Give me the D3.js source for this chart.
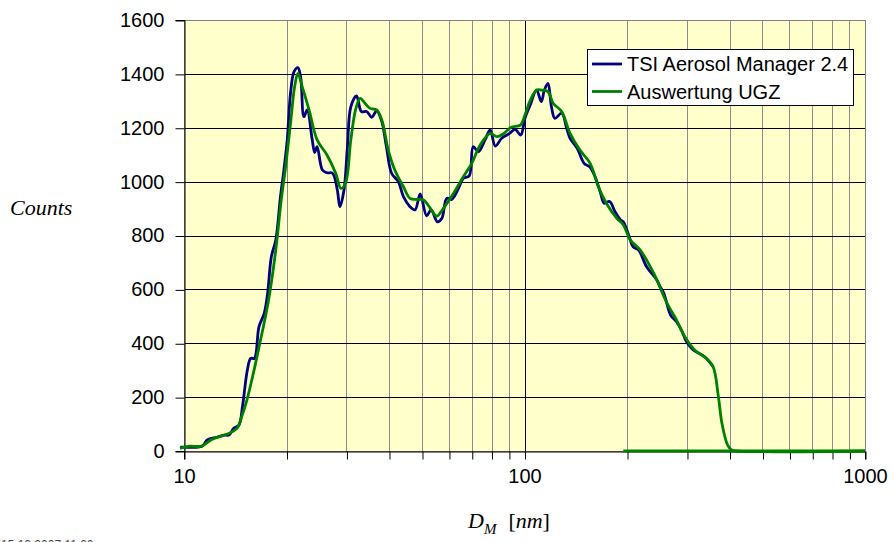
<!DOCTYPE html>
<html>
<head>
<meta charset="utf-8">
<script src="https://cdn.jsdelivr.net/npm/d3@7"></script>
<style>
  body { margin: 0; background: #fff; }
  svg { display: block; }
  .tick text { font-family: "Liberation Sans", Arial, sans-serif; font-size: 20px; fill: #000; }
</style>
</head>
<body>
<div id="chart"></div>
<script>
// size distribution, D_M in nm, counts
const tsiData = [
  [9.75, 14], [10, 14], [11.3, 18], [11.7, 41], [12.5, 51], [13.1, 59], [13.55, 59], [14.0, 84],
  [14.5, 96], [14.85, 165], [15.35, 301], [15.7, 344], [16.1, 344], [16.6, 461], [17.2, 511],
  [17.6, 585], [18.05, 721], [18.6, 783], [19.2, 944], [19.65, 1043], [20.1, 1155], [20.55, 1328],
  [21.05, 1408], [21.6, 1423], [22.0, 1390], [22.5, 1241], [23.0, 1266], [23.8, 1155], [24.2, 1108],
  [24.6, 1130], [25.5, 1043], [26.3, 1033], [27.3, 1031], [28.2, 969], [28.7, 907], [29.5, 969],
  [30.2, 1130], [30.9, 1278], [32.1, 1318], [33.2, 1260], [34.4, 1260], [35.6, 1239], [36.8, 1263],
  [38.1, 1223], [39.3, 1130], [40.7, 1031], [42.6, 1000], [44.1, 944], [46.1, 907], [47.7, 895],
  [49.4, 954], [51.6, 873], [53.2, 895], [55.5, 851], [57.2, 864], [59.1, 938], [61.1, 934],
  [64.0, 975], [66.1, 1012], [68.8, 1021], [70.7, 1130], [73.2, 1111], [76.6, 1155], [79.3, 1192],
  [82.1, 1132], [85.7, 1161], [90.4, 1179], [93.8, 1194], [97.5, 1173], [100.3, 1235], [103.9, 1284],
  [108.5, 1340], [112.0, 1297], [114.4, 1340], [117.2, 1365], [120.0, 1278], [122.8, 1235],
  [128.6, 1254], [133.0, 1198], [136.1, 1161], [142.8, 1124], [149.6, 1068], [155.4, 1055],
  [161.2, 1018], [167.3, 957], [171.3, 920], [177.8, 926], [184.5, 888], [191.4, 858], [195.1, 851],
  [202.3, 802], [208.5, 758], [216.3, 746], [228.4, 684], [244.7, 635], [250.2, 610], [256.6, 585],
  [268.5, 505], [279.6, 480], [290, 445], [298.9, 406], [313, 375], [337.7, 350], [358, 313]
];

const ugzData = [
  [9.73, 10], [10.4, 18], [11.27, 18], [12.06, 43], [13.35, 62], [14.3, 84], [14.77, 127], [15.3, 189],
  [15.98, 288], [16.7, 400], [17.5, 523], [18.1, 635], [18.7, 771], [19.3, 932], [19.88, 1055],
  [20.55, 1216], [21.13, 1352], [21.6, 1402], [22.25, 1352], [23.3, 1266], [24.6, 1155], [26.3, 1099],
  [27.9, 1031], [28.9, 975], [29.8, 994], [30.9, 1155], [31.9, 1266], [32.9, 1309], [34.0, 1291],
  [35.2, 1272], [36.8, 1266], [38.1, 1229], [39.8, 1117], [41.6, 1043], [44.1, 981], [46.1, 938],
  [48.2, 934], [50.5, 932], [52.9, 901], [55.2, 872], [57.8, 901], [61.9, 957], [66.1, 1018],
  [70.0, 1068], [74.1, 1136], [79.3, 1179], [82.9, 1167], [86.6, 1177], [91.4, 1202], [97.3, 1210],
  [100.3, 1247], [103.8, 1300], [108.5, 1340], [112.0, 1340], [117.2, 1334], [121.4, 1291],
  [128.6, 1260], [136.1, 1179], [145.5, 1117], [155.9, 1068], [164.8, 981], [173.9, 920], [186.7, 864],
  [195.2, 839], [204.6, 783], [218.8, 746], [239.5, 660], [262.3, 548], [279.6, 486], [295.7, 424],
  [316, 375], [342, 344], [358, 313], [371, 202], [380, 103], [395, 22], [406, 4], [420, 0], [1000, 0]
];
// second green piece lying on the axis
const ugzBase = [[195, 0], [1000, 0]];

const yTicks = [0, 200, 400, 600, 800, 1000, 1200, 1400, 1600];
const xMajor = [10, 100, 1000];
const xMinor = [20, 30, 40, 50, 60, 70, 80, 90, 200, 300, 400, 500, 600, 700, 800, 900];
const seriesNames = ["TSI Aerosol Manager 2.4", "Auswertung UGZ"];
const seriesColors = ["#000080", "#008000"];

let width = 894, height = 542;
let margin = {top: 20, right: 29, bottom: 91, left: 184};

const svg = d3.select("#chart").append("svg")
  .attr("width", width)
  .attr("height", height);

const x = d3.scaleLog()
  .domain([10, 1000])
  .range([margin.left, width - margin.right]);

const y = d3.scaleLinear()
  .domain([0, 1600])
  .range([height - margin.bottom, margin.top]);

// plot background
svg.append("rect")
  .attr("x", x(10)).attr("y", y(1600))
  .attr("width", x(1000) - x(10)).attr("height", y(0) - y(1600))
  .attr("fill", "#ffffcc");

const px = v => Math.round(v) + 0.5;

// vertical grid
svg.append("g").selectAll("line")
  .data(xMinor.concat([100]))
  .join("line")
  .attr("x1", d => px(x(d))).attr("x2", d => px(x(d)))
  .attr("y1", y(1600)).attr("y2", y(0))
  .attr("stroke", d => d == 100 ? "#000" : "#8c8c8c")
  .attr("stroke-width", 1);

// horizontal grid
svg.append("g").selectAll("line")
  .data(yTicks.slice(1))
  .join("line")
  .attr("x1", x(10)).attr("x2", x(1000))
  .attr("y1", d => px(y(d))).attr("y2", d => px(y(d)))
  .attr("stroke", "#000")
  .attr("stroke-width", 1);

// frame
svg.append("rect")
  .attr("x", px(x(10))).attr("y", px(y(1600)))
  .attr("width", Math.round(x(1000)) - Math.round(x(10))).attr("height", Math.round(y(0)) - Math.round(y(1600)))
  .attr("fill", "none")
  .attr("stroke", "#808080");

// axes
const yAxis = svg.append("g")
  .attr("transform", `translate(${px(x(10))},0)`)
  .call(d3.axisLeft(y).tickValues(yTicks).tickSize(9).tickPadding(11).tickFormat(d3.format("d")));

const xAxis = svg.append("g")
  .attr("transform", `translate(0,${px(y(0))})`)
  .call(d3.axisBottom(x).tickValues(xMajor.concat(xMinor)).tickSize(8).tickPadding(9)
    .tickFormat(d => xMajor.includes(d) ? d : ""));

[yAxis, xAxis].forEach(g => {
  g.select(".domain").attr("stroke", "#000");
  g.selectAll(".tick line").attr("stroke", "#000");
});
xAxis.selectAll(".tick line").attr("transform", "translate(0.5,0)");
yAxis.selectAll(".tick line").attr("transform", "translate(0,0.5)");

// lines
const line = d3.line()
  .x(d => x(d[0]))
  .y(d => y(d[1]))
  .curve(d3.curveCatmullRom.alpha(0.5));

svg.append("path")
  .datum(ugzBase)
  .attr("d", line)
  .attr("fill", "none")
  .attr("stroke", seriesColors[1])
  .attr("stroke-width", 2.8);

svg.append("path")
  .datum(tsiData)
  .attr("d", line)
  .attr("fill", "none")
  .attr("stroke", seriesColors[0])
  .attr("stroke-width", 2.8)
  .attr("stroke-linejoin", "round");

svg.append("path")
  .datum(ugzData)
  .attr("d", line)
  .attr("fill", "none")
  .attr("stroke", seriesColors[1])
  .attr("stroke-width", 2.8)
  .attr("stroke-linejoin", "round");

// legend
const legend = svg.append("g").attr("transform", "translate(587,49)");
legend.append("rect")
  .attr("x", 0.5).attr("y", 0.5)
  .attr("width", 266).attr("height", 56)
  .attr("fill", "#fff")
  .attr("stroke", "#000");

const item = legend.selectAll("g.item")
  .data(seriesNames)
  .join("g")
  .attr("class", "item")
  .attr("transform", (d, i) => `translate(0,${15 + i * 27.5})`);

item.append("line")
  .attr("x1", 5).attr("x2", 35)
  .attr("stroke", (d, i) => seriesColors[i])
  .attr("stroke-width", 2.8);

item.append("text")
  .attr("x", 40).attr("y", 7)
  .style("font-family", "'Liberation Sans', Arial, sans-serif")
  .style("font-size", "20px")
  .text(d => d);

// axis titles
svg.append("text")
  .attr("x", 10).attr("y", 215)
  .style("font-family", "'Liberation Serif', 'Times New Roman', serif")
  .style("font-style", "italic")
  .style("font-size", "22px")
  .text("Counts");

const xt = svg.append("text")
  .attr("x", 468).attr("y", 528)
  .style("font-family", "'Liberation Serif', 'Times New Roman', serif")
  .style("font-size", "22px");
xt.append("tspan").style("font-style", "italic").text("D");
xt.append("tspan").style("font-style", "italic").style("font-size", "15px").attr("dy", 6).text("M");
xt.append("tspan").attr("dy", -6).attr("dx", 12).text("[");
xt.append("tspan").style("font-style", "italic").text("nm");
xt.append("tspan").text("]");

// timestamp, cut at the bottom edge
svg.append("text")
  .attr("x", 1).attr("y", 549)
  .style("font-family", "'Liberation Sans', Arial, sans-serif")
  .style("font-size", "12px")
  .attr("fill", "#444")
  .text("15.10.2007 11:00");
</script>
</body>
</html>
